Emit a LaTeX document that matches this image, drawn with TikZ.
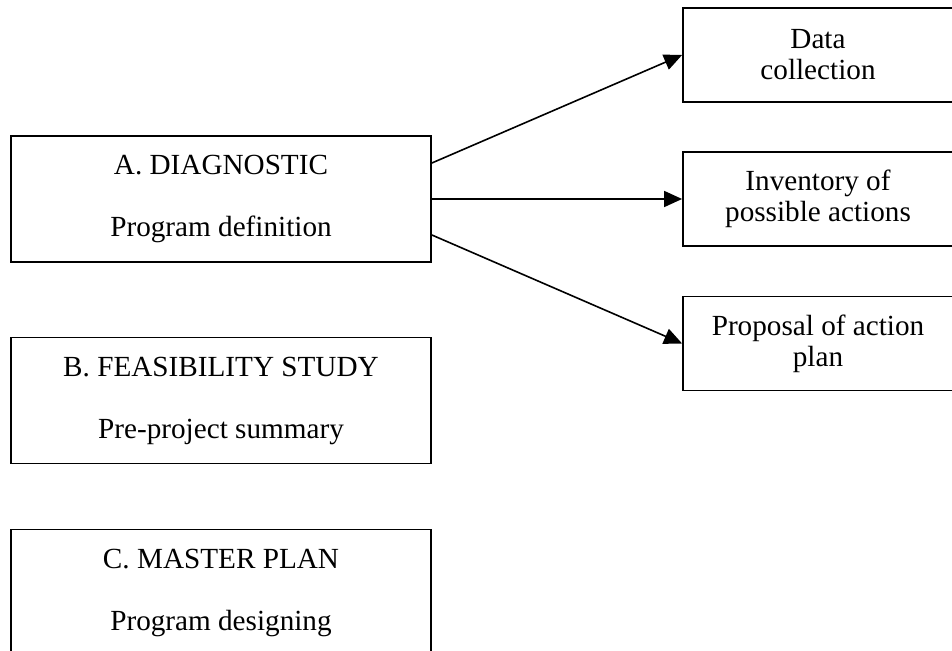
\documentclass[tikz,border=0pt]{standalone}
\usepackage{fontspec}
\setmainfont{Liberation Serif}
\usetikzlibrary{arrows.meta}

\begin{document}
\begin{tikzpicture}[x=0.5pt,y=-0.5pt,
  stagebox/.style={draw,line width=0.9pt,minimum width=210pt,minimum height=63pt,inner sep=0pt,align=center,font=\fontsize{14.6}{15.5}\selectfont},
  taskbox/.style={draw,line width=0.9pt,minimum width=135pt,minimum height=47pt,inner sep=0pt,align=center,font=\fontsize{14.6}{15.5}\selectfont}]
 \useasboundingbox (0,0) rectangle (952,651);
 \clip (0,0) rectangle (952,651);
 % stages on the left
 \node[stagebox] (diag) at (221,199) {A. DIAGNOSTIC\\[15.5pt]Program definition};
 \node[stagebox] (feas) at (221,400.5) {B. FEASIBILITY STUDY\\[15.5pt]Pre-project summary};
 \node[stagebox] (master) at (221,592.5) {C. MASTER PLAN\\[15.5pt]Program designing};
 % tasks of the diagnostic
 \node[taskbox] (data) at (818,55) {Data\\collection};
 \node[taskbox] (inv) at (818,199) {Inventory of\\possible actions};
 \node[taskbox] (prop) at (818,343.5) {Proposal of action\\plan};
 \foreach \s/\n in {18pt/data,0pt/inv,-18pt/prop}
   \draw[-{Triangle[length=9pt,width=8pt]},line width=0.8pt] ([yshift=\s]diag.east) -- (\n.west);
\end{tikzpicture}
\end{document}
